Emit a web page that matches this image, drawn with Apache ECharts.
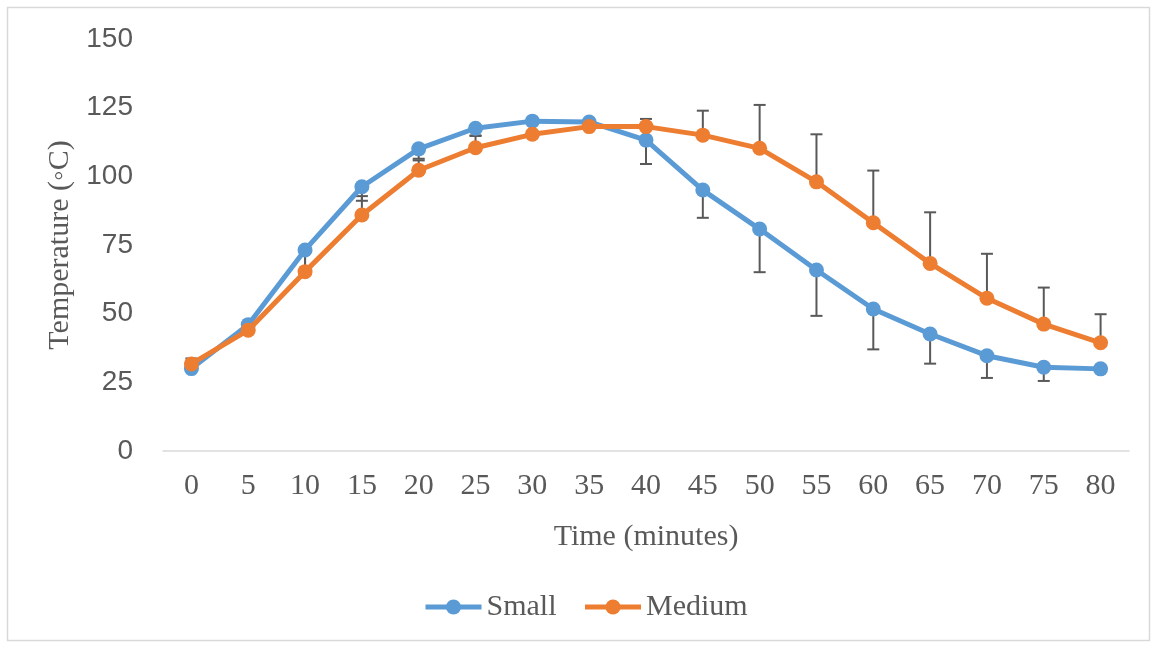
<!DOCTYPE html>
<html>
<head>
<meta charset="utf-8">
<script src="https://cdn.jsdelivr.net/npm/echarts@6/dist/echarts.min.js"></script>
<style>
html,body{margin:0;padding:0;background:#fff;}
#chart{width:1157px;height:648px;}
</style>
</head>
<body>
<div id="chart"></div>
<script>
// ---- data ----
var timeLabels = ['0','5','10','15','20','25','30','35','40','45','50','55','60','65','70','75','80'];
var smallTemp  = [30.0, 46.0, 73.2, 96.2, 110.0, 117.5, 120.1, 119.8, 113.2, 95.0, 80.8, 65.9, 51.7, 42.6, 34.7, 30.5, 29.9];
var mediumTemp = [31.7, 44.0, 65.3, 85.9, 102.2, 110.4, 115.3, 118.1, 118.1, 115.0, 110.2, 98.0, 83.1, 68.3, 55.6, 46.2, 39.4];
// Small shows minus error bars, Medium shows plus error bars
var smallErrMinus = [0.5, 1.0, 7.0, 5.1, 3.6, 2.8, 1.0, 1.0, 8.7, 10.1, 15.7, 16.7, 14.7, 10.8, 8.1, 5.0, 0.5];
var mediumErrPlus = [2.0, 1.0, 7.5, 6.9, 3.6, 4.5, 1.0, 1.0, 2.8, 8.9, 15.8, 17.3, 19.0, 18.6, 16.2, 13.3, 10.4];
var yTicks = {min: 0, max: 150, interval: 25};

var smallErrData = smallTemp.map(function(v, i){ return [i, v - smallErrMinus[i], v]; });
var mediumErrData = mediumTemp.map(function(v, i){ return [i, v, v + mediumErrPlus[i]]; });

function errRender(params, api) {
  var x = api.value(0);
  var lo = api.coord([x, api.value(1)]);
  var hi = api.coord([x, api.value(2)]);
  var half = 6;
  var style = {stroke: '#595959', lineWidth: 2};
  return {
    type: 'group',
    children: [
      {type: 'line', shape: {x1: lo[0], y1: lo[1], x2: hi[0], y2: hi[1]}, style: style},
      {type: 'line', shape: {x1: lo[0] - half, y1: lo[1], x2: lo[0] + half, y2: lo[1]}, style: style},
      {type: 'line', shape: {x1: hi[0] - half, y1: hi[1], x2: hi[0] + half, y2: hi[1]}, style: style}
    ]
  };
}
function errRenderSmall(params, api) {
  var g = errRender(params, api);
  g.children.splice(2, 1); // no cap at the value end (top)
  return g;
}
function errRenderMedium(params, api) {
  var g = errRender(params, api);
  g.children.splice(1, 1); // no cap at the value end (bottom)
  return g;
}

var chart = echarts.init(document.getElementById('chart'), null, {renderer: 'canvas'});
chart.setOption({
  backgroundColor: '#ffffff',
  animation: false,
  graphic: [{
    type: 'rect', silent: true, z: -10,
    shape: {x: 7.5, y: 7.5, width: 1142, height: 633},
    style: {fill: 'none', stroke: '#d9d9d9', lineWidth: 1.5}
  }],
  grid: {left: 163, right: 28, top: 39, height: 412, containLabel: false},
  legend: {
    data: ['Small', 'Medium'],
    left: 423, top: 592, padding: 0,
    itemWidth: 56, itemHeight: 19, itemGap: 26,
    lineStyle: {width: 5},
    textStyle: {fontFamily: 'Liberation Serif', fontSize: 30, color: '#595959'}
  },
  xAxis: {
    type: 'category',
    data: timeLabels,
    boundaryGap: true,
    name: 'Time (minutes)',
    nameLocation: 'middle',
    nameGap: 71,
    nameTextStyle: {fontFamily: 'Liberation Serif', fontSize: 30, color: '#595959'},
    axisLine: {lineStyle: {color: '#d9d9d9', width: 1.5}},
    axisTick: {show: false},
    axisLabel: {fontFamily: 'Liberation Serif', fontSize: 30, color: '#595959', margin: 20, interval: 0},
    splitLine: {show: false}
  },
  yAxis: {
    type: 'value',
    min: yTicks.min, max: yTicks.max, interval: yTicks.interval,
    name: 'Temperature (\u25E6C)',
    nameLocation: 'middle',
    nameGap: 84,
    nameRotate: 90,
    nameTextStyle: {fontFamily: 'Liberation Serif', fontSize: 30, color: '#595959'},
    axisLine: {show: false},
    axisTick: {show: false},
    axisLabel: {fontFamily: 'Liberation Sans', fontSize: 28, color: '#595959', margin: 30},
    splitLine: {show: false}
  },
  series: [
    {
      name: 'SmallErr', type: 'custom', renderItem: errRenderSmall,
      data: smallErrData, encode: {x: 0, y: [1, 2]}, z: 1, silent: true
    },
    {
      name: 'MediumErr', type: 'custom', renderItem: errRenderMedium,
      data: mediumErrData, encode: {x: 0, y: [1, 2]}, z: 1, silent: true
    },
    {
      name: 'Small', type: 'line', data: smallTemp, z: 3,
      symbol: 'circle', symbolSize: 15,
      lineStyle: {color: '#5B9BD5', width: 5},
      itemStyle: {color: '#5B9BD5'}
    },
    {
      name: 'Medium', type: 'line', data: mediumTemp, z: 4,
      symbol: 'circle', symbolSize: 15,
      lineStyle: {color: '#ED7D31', width: 5},
      itemStyle: {color: '#ED7D31'}
    }
  ]
});
</script>
</body>
</html>
